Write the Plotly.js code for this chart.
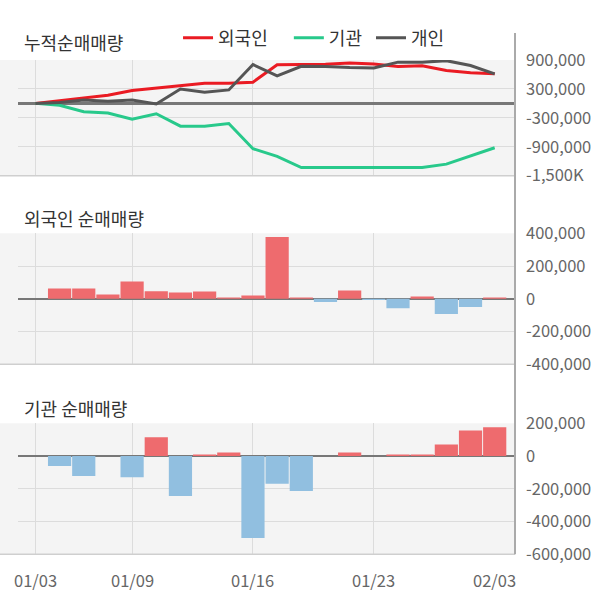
<!DOCTYPE html>
<html><head><meta charset="utf-8">
<script src="https://cdn.plot.ly/plotly-3.0.1.min.js"></script>
<style>html,body{margin:0;padding:0;background:#fff}#c{width:600px;height:604px}</style>
</head><body><div id="c"></div>
<script>
const dates = ["01/03","01/04","01/05","01/06","01/09","01/10","01/11","01/12","01/13","01/16","01/17","01/18","01/19","01/20","01/23","01/24","01/25","01/26","02/02","02/03"];
const labelDates = ["01/03","01/09","01/16","01/23","02/03"];
const gridDates = ["01/03","01/09","01/16","01/23"];
const seriesNames = ["외국인","기관","개인"];

const foreignCum = [0,56000,112000,167000,265000,320000,370000,418000,418000,440000,800000,800000,810000,835000,815000,765000,780000,680000,635000,615000];
const instCum = [0,-40000,-172000,-200000,-328000,-216000,-472000,-472000,-418000,-940000,-1100000,-1330000,-1330000,-1330000,-1330000,-1330000,-1330000,-1260000,-1090000,-920000];
const indivCum = [0,20000,70000,42000,70000,-14000,298000,232000,279000,805000,572000,770000,765000,742000,735000,855000,855000,886000,786000,610000];

const foreignNet = [0,63000,63000,26000,105000,46000,38000,44000,8000,20000,378000,8000,-20000,50000,-7000,-57000,14000,-93000,-50000,8000];
const instNet = [0,-61000,-122000,0,-130000,114000,-244000,10000,22000,-500000,-170000,-213000,0,22000,0,10000,10000,71000,156000,175000];

const topTicks = [900000,300000,-300000,-900000,-1500000];
const topTickText = ["900,000","300,000","-300,000","-900,000","-1,500K"];
const midTicks = [400000,200000,0,-200000,-400000];
const midTickText = ["400,000","200,000","0","-200,000","-400,000"];
const botTicks = [200000,0,-200000,-400000,-600000];
const botTickText = ["200,000","0","-200,000","-400,000","-600,000"];

const RED="#ea1b23", GREEN="#28c98b", GRAY="#555555";
const BAR_POS="#ee6b6e", BAR_NEG="#91bfe0";
const FONT='"Noto Sans CJK KR", "Noto Sans", sans-serif';
const TICK=16.5, TITLE=18;
const NB="\u00a0";

const xr=[-0.72,19.84];
const traces=[
 {x:dates,y:foreignCum,type:"scatter",mode:"lines",name:seriesNames[0]+NB.repeat(4),line:{color:RED,width:3},xaxis:"x",yaxis:"y"},
 {x:dates,y:instCum,type:"scatter",mode:"lines",name:seriesNames[1]+NB.repeat(1),line:{color:GREEN,width:3},xaxis:"x",yaxis:"y"},
 {x:dates,y:indivCum,type:"scatter",mode:"lines",name:seriesNames[2],line:{color:GRAY,width:3},xaxis:"x",yaxis:"y"},
 {x:dates,y:foreignNet,type:"bar",showlegend:false,marker:{color:foreignNet.map(v=>v>=0?BAR_POS:BAR_NEG)},xaxis:"x2",yaxis:"y2"},
 {x:dates,y:instNet,type:"bar",showlegend:false,marker:{color:instNet.map(v=>v>=0?BAR_POS:BAR_NEG)},xaxis:"x3",yaxis:"y3"}
];
function xax(anchor){return {type:"category",categoryarray:dates,categoryorder:"array",range:xr,anchor:anchor,
  tickvals:gridDates,showticklabels:false,showgrid:true,gridcolor:"#dcdcdc",gridwidth:1,zeroline:false,showline:false,ticks:"",fixedrange:true};}
function yax(dom,rng,tv,tt,anchor){return {domain:dom,range:rng,side:"right",anchor:anchor,tickvals:tv,ticktext:tt,
  showgrid:true,gridcolor:"#dcdcdc",gridwidth:1,zeroline:true,zerolinecolor:"#777",zerolinewidth:2.5,showline:false,ticks:"",
  ticklabelstandoff:10,tickfont:{size:TICK,color:"#666",family:FONT}};}
const D1=[0.7091,0.9007], D2=[0.3969,0.6137], D3=[0.0823,0.2992];
const stripX=-18/496.6;
const shapes=[];
[D1,D2,D3].forEach(d=>{
  shapes.push({type:"rect",xref:"paper",yref:"paper",x0:stripX,x1:0,y0:d[0],y1:d[1],fillcolor:"#f4f4f4",line:{width:0},layer:"below"});
  shapes.push({type:"line",xref:"paper",yref:"paper",x0:stripX,x1:1,y0:d[0],y1:d[0],line:{color:"#cfcfcf",width:1.5}});
});
shapes.push({type:"line",xref:"paper",yref:"paper",x0:1,x1:1,y0:0.0823,y1:0.9454,line:{color:"#aaaaaa",width:2}});
const annotations=[
 {text:"누적순매매량",xref:"paper",yref:"paper",x:0.008,y:0.930,xanchor:"left",yanchor:"middle",showarrow:false,font:{size:TITLE,color:"#333",family:FONT}},
 {text:"외국인 순매매량",xref:"paper",yref:"paper",x:0.008,y:0.639,xanchor:"left",yanchor:"middle",showarrow:false,font:{size:TITLE,color:"#333",family:FONT}},
 {text:"기관 순매매량",xref:"paper",yref:"paper",x:0.008,y:0.3245,xanchor:"left",yanchor:"middle",showarrow:false,font:{size:TITLE,color:"#333",family:FONT}}
];
labelDates.forEach(d=>annotations.push({text:d,xref:"x3",yref:"paper",x:d,y:0.0397,xanchor:"center",yanchor:"middle",showarrow:false,font:{size:TICK,color:"#666",family:FONT}}));
const layout={width:600,height:604,margin:{l:18,r:85.4,t:0,b:0},paper_bgcolor:"#fff",plot_bgcolor:"#f4f4f4",
 font:{family:FONT},bargap:0.04,
 xaxis:xax("y"),xaxis2:xax("y2"),xaxis3:xax("y3"),
 yaxis:yax(D1,[-1500000,900000],topTicks,topTickText,"x"),
 yaxis2:yax(D2,[-400000,400000],midTicks,midTickText,"x2"),
 yaxis3:yax(D3,[-600000,200000],botTicks,botTickText,"x3"),
 showlegend:true,
 legend:{orientation:"h",x:0.322,xanchor:"left",y:0.937,yanchor:"middle",font:{size:TITLE,color:"#333",family:FONT},bgcolor:"rgba(0,0,0,0)",itemwidth:30},
 shapes:shapes,annotations:annotations};
Plotly.newPlot("c",traces,layout,{staticPlot:true,displayModeBar:false});
</script></body></html>
